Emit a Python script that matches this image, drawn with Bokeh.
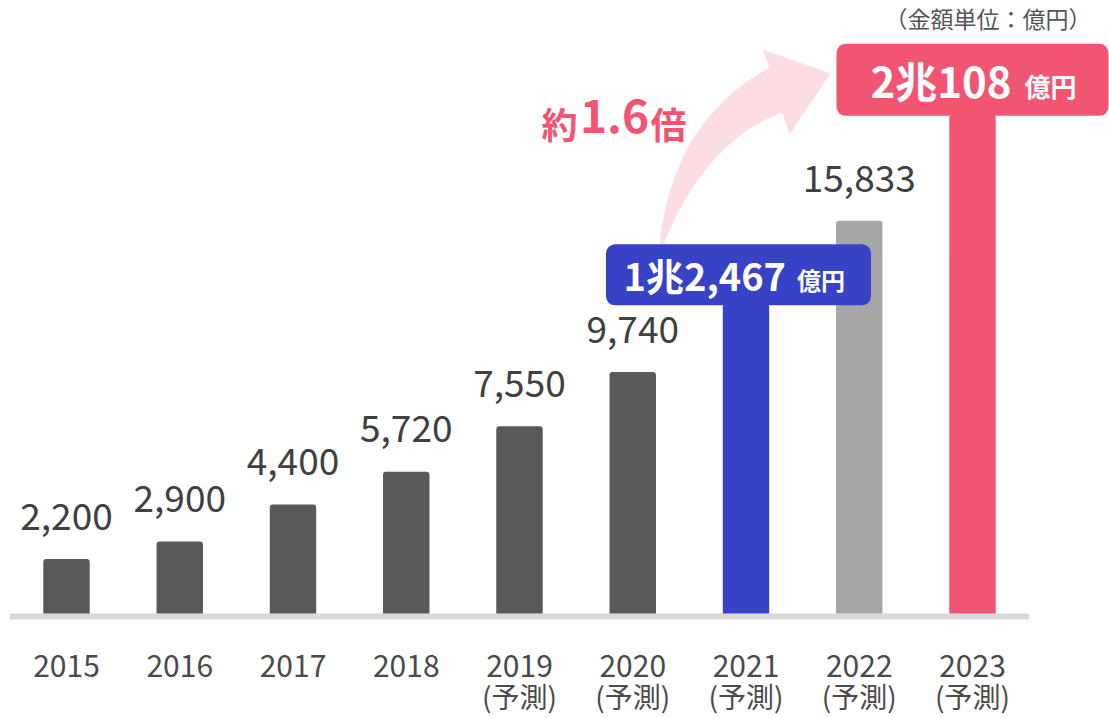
from bokeh.plotting import figure
from bokeh.models import Range1d
from bokeh.core.properties import value
from bokeh.embed import file_html
from bokeh.resources import INLINE

# ---------------- data ----------------
years = ["2015", "2016", "2017", "2018", "2019", "2020", "2021", "2022", "2023"]
forecast = [False, False, False, False, True, True, True, True, True]
values = [2200, 2900, 4400, 5720, 7550, 9740, 12467, 15833, 20108]
value_labels = ["2,200", "2,900", "4,400", "5,720", "7,550", "9,740", "", "15,833", ""]
bar_colors = ["#595959", "#595959", "#595959", "#595959", "#595959", "#595959",
              "#3742c6", "#a6a6a6", "#f25572"]
highlight_idx = [6, 8]
highlight_main = ["1兆2,467", "2兆108"]
highlight_unit = ["億円", "億円"]
unit_note = "（金額単位：億円）"
growth_prefix, growth_num, growth_suffix = "約", "1.6", "倍"

FONT = value("Noto Sans CJK JP")
W, H = 1109, 718
PX_X = 113.25          # pixels per category
X0 = -66 / PX_X        # data x at left canvas edge
PX_Y = 0.0248          # pixels per unit (億円)
BASE_Y = 613           # canvas y of zero line


def dx(px):
    return px / PX_X


def dy(px):
    return px / PX_Y


def xd(cx):  # canvas x -> data x
    return X0 + cx / PX_X


def yd(cy):  # canvas y -> data y
    return (BASE_Y - cy) / PX_Y


def fix(size):  # compensation for the renderer's baseline placement
    return -0.4 * size


p = figure(width=W, height=H, output_backend="svg", toolbar_location=None,
           x_axis_type=None, y_axis_type=None,
           x_range=Range1d(xd(0), xd(W)), y_range=Range1d(yd(H), yd(0)),
           min_border=0, min_border_left=0, min_border_right=0,
           min_border_top=0, min_border_bottom=0)
p.outline_line_color = None
p.grid.visible = False
p.background_fill_color = "white"
p.border_fill_color = "white"

xs = list(range(len(years)))

# ---------------- growth arrow ----------------
def bez(p0, c, p2, n=30):
    pts = []
    for k in range(n + 1):
        t = k / n
        x = (1 - t) ** 2 * p0[0] + 2 * (1 - t) * t * c[0] + t ** 2 * p2[0]
        y = (1 - t) ** 2 * p0[1] + 2 * (1 - t) * t * c[1] + t ** 2 * p2[1]
        pts.append((x, y))
    return pts

outer = bez((659, 244), (672, 120), (769, 67))
inner = bez((782, 112), (705, 140), (663, 244))
head = [(762, 49), (830, 73), (789, 134)]
poly = outer + head + inner
p.patch([xd(a) for a, b in poly], [yd(b) for a, b in poly],
        fill_color="#fcdde3", line_color=None)

# ---------------- baseline band ----------------
p.quad(left=[-0.5], right=[8.5], top=[0], bottom=[-dy(6)],
       fill_color="#d9d9d9", line_color=None)

# ---------------- bars ----------------
p.vbar(x=xs, top=values, bottom=0, width=0.41, fill_color=bar_colors,
       line_color=None, border_radius=[3, 3, 0, 0])

# ---------------- highlight boxes ----------------
box_w = [265, 272]
box_h = [60, 71]
box_shift = [-7.5, 0]
for k, i in enumerate(highlight_idx):
    c = i + dx(box_shift[k])
    p.quad(left=[c - dx(box_w[k]) / 2], right=[c + dx(box_w[k]) / 2],
           bottom=[values[i] - dy(1)], top=[values[i] + dy(box_h[k])],
           fill_color=bar_colors[i], line_color=None, border_radius=9)

main_size = [38, 42]
unit_size = [24, 26]
main_right = [40, 39]
unit_left = [51, 52]
y_off = [-15, -19]
for k, i in enumerate(highlight_idx):
    p.text(x=[i], y=[values[i]], text=[highlight_main[k]], x_offset=main_right[k],
           y_offset=y_off[k] + fix(main_size[k]), text_align="right",
           text_baseline="alphabetic", text_font=FONT, text_font_style="bold",
           text_font_size=f"{main_size[k]}px", text_color="white")
    p.text(x=[i], y=[values[i]], text=[highlight_unit[k]], x_offset=unit_left[k],
           y_offset=y_off[k] + fix(unit_size[k]), text_align="left",
           text_baseline="alphabetic", text_font=FONT, text_font_style="bold",
           text_font_size=f"{unit_size[k]}px", text_color="white")

# ---------------- value labels ----------------
lab_x = [x for x, t in zip(xs, value_labels) if t]
lab_y = [v for v, t in zip(values, value_labels) if t]
lab_t = [t for t in value_labels if t]
p.text(x=lab_x, y=lab_y, text=lab_t, y_offset=-28 + fix(37), text_align="center",
       text_baseline="alphabetic", text_font=FONT, text_font_size="37px",
       text_color="#404040")

# ---------------- category labels ----------------
p.text(x=xs, y=[0] * len(xs), text=years, y_offset=64 + fix(30), text_align="center",
       text_baseline="alphabetic", text_font=FONT, text_font_size="30px",
       text_color="#4a4a4a")
fx = [x for x, f in zip(xs, forecast) if f]
p.text(x=fx, y=[0] * len(fx), text=["(予測)"] * len(fx), y_offset=94 + fix(28),
       text_align="center", text_baseline="alphabetic", text_font=FONT,
       text_font_size="28px", text_color="#4a4a4a")

# ---------------- growth annotation ----------------
p.text(x=[xd(577)], y=[yd(137)], y_offset=fix(36), text=[growth_prefix],
       text_align="right", text_baseline="alphabetic", text_font=FONT,
       text_font_style="bold", text_font_size="36px", text_color="#f25572")
p.text(x=[xd(614)], y=[yd(134)], y_offset=fix(46), text=[growth_num],
       text_align="center", text_baseline="alphabetic", text_font=FONT,
       text_font_style="bold", text_font_size="46px", text_color="#f25572")
p.text(x=[xd(650)], y=[yd(137)], y_offset=fix(36), text=[growth_suffix],
       text_align="left", text_baseline="alphabetic", text_font=FONT,
       text_font_style="bold", text_font_size="36px", text_color="#f25572")

# ---------------- unit note ----------------
p.text(x=[xd(1091)], y=[yd(17)], text=[unit_note], text_align="right",
       text_baseline="middle", text_font=FONT, text_font_size="23px",
       text_color="#555555")

open("out.html", "w").write(file_html(p, INLINE))
